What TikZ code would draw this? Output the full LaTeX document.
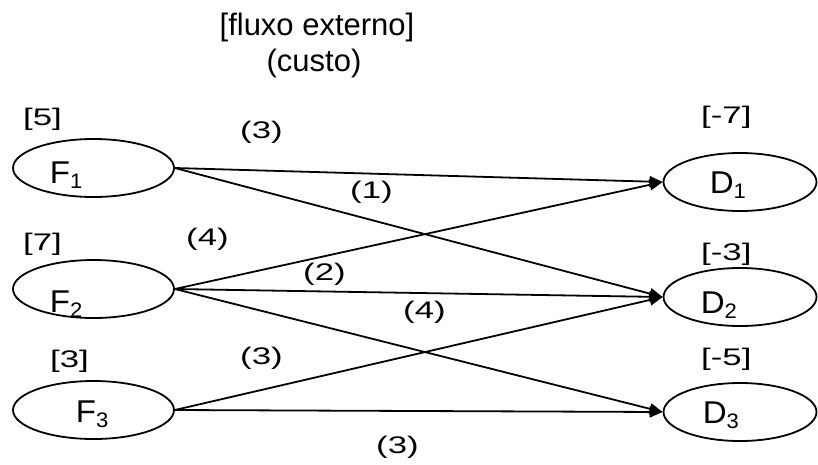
\documentclass[tikz,border=0pt]{standalone}
\usepackage{fontspec}
\setmainfont{Liberation Sans}
\newfontfamily\lblfont[FakeStretch=1.45]{Liberation Sans}
\newfontfamily\namefont[FakeStretch=1.05]{Liberation Sans}
\usetikzlibrary{arrows.meta,shapes.geometric}
\newcommand\lowsub[1]{\raisebox{-5pt}{\fontsize{21}{21}\selectfont #1}}
\tikzset{
  nodeell/.style={draw, ellipse, line width=1.8pt, minimum height=58pt, inner sep=0pt},
  fell/.style={nodeell, minimum width=161pt},
  dell/.style={nodeell, minimum width=153pt},
  nametext/.style={font=\namefont\fontsize{31.5}{31.5}\selectfont, inner sep=0pt, anchor=base west},
  lbl/.style={font=\lblfont\fontsize{24}{24}\selectfont, inner sep=0pt, anchor=base west},
  titletext/.style={font=\fontsize{31}{35}\selectfont, inner sep=0pt, anchor=base},
  flow/.style={line width=1.8pt, -{Triangle[length=13pt,width=11pt]}}
}
\begin{document}
\begin{tikzpicture}[x=1pt,y=-1pt]
\useasboundingbox (0,0) rectangle (818,464);
% title
\node[titletext] (t1) at (317,35.5) {[fluxo externo]};
\node[titletext] (t2) at (314,71) {(custo)};
% ellipses
\node[fell] (f1) at (93.5,168) {};
\node[fell] (f2) at (93.5,289) {};
\node[fell] (f3) at (93.5,410) {};
\node[dell] (d1) at (740,182) {};
\node[dell] (d2) at (740,297) {};
\node[dell] (d3) at (740,412) {};
% names
\node[nametext] (f1t) at (49.6,183) {F\lowsub{1}};
\node[nametext] (f2t) at (49.6,312) {F\lowsub{2}};
\node[nametext] (f3t) at (75.6,422) {F\lowsub{3}};
\node[nametext] (d1t) at (709.6,193) {D\lowsub{1}};
\node[nametext] (d2t) at (700.6,313) {D\lowsub{2}};
\node[nametext] (d3t) at (702.6,423) {D\lowsub{3}};
% external flows
\node[lbl] (b1) at (23,125) {[5]};
\node[lbl] (b2) at (23,250.5) {[7]};
\node[lbl] (b3) at (50,367) {[3]};
\node[lbl] (b4) at (701,123) {[-7]};
\node[lbl] (b5) at (701,260) {[-3]};
\node[lbl] (b6) at (701,365) {[-5]};
% edges
\draw[flow] (f1.east) -- (d1.west);
\draw[flow] (f1.east) -- (d2.west);
\draw[flow] (f2.east) -- (d1.west);
\draw[flow] (f2.east) -- (d2.west);
\draw[flow] (f2.east) -- (d3.west);
\draw[flow] (f3.east) -- (d2.west);
\draw[flow] (f3.east) -- (d3.west);
% costs
\node[lbl] (c1) at (240,138.5) {(3)};
\node[lbl] (c2) at (350,198.5) {(1)};
\node[lbl] (c3) at (186,245.5) {(4)};
\node[lbl] (c4) at (303,280.5) {(2)};
\node[lbl] (c5) at (403,318.5) {(4)};
\node[lbl] (c6) at (240,364.5) {(3)};
\node[lbl] (c7) at (376,453.5) {(3)};
\end{tikzpicture}
\end{document}
